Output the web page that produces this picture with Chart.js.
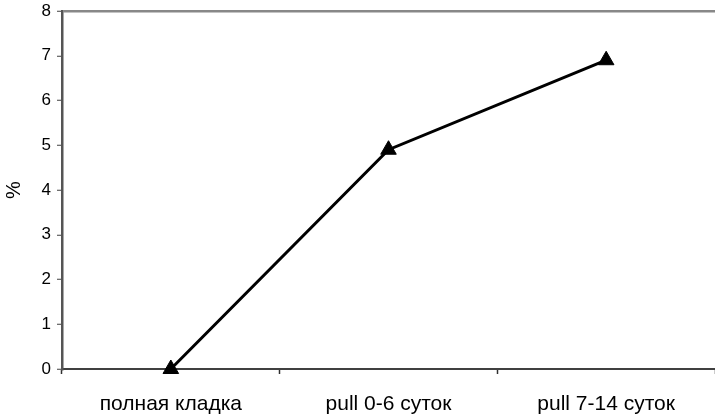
<!DOCTYPE html>
<html>
<head>
<meta charset="utf-8">
<script src="https://cdn.jsdelivr.net/npm/chart.js@4/dist/chart.umd.min.js"></script>
<style>
  html, body { margin: 0; padding: 0; background: #fff; }
  #wrap { width: 715px; height: 417px; }
</style>
</head>
<body>
<div id="wrap"><canvas id="c" width="715" height="417"></canvas></div>
<script>
// Share by clutch group, %
const categories = ['полная кладка', 'pull 0-6 суток', 'pull 7-14 суток'];
const shareValues = [0, 4.9, 6.9];
const yTicks = [0, 1, 2, 3, 4, 5, 6, 7, 8];

const FONT = "'Liberation Sans', Arial, sans-serif";

new Chart(document.getElementById('c'), {
  type: 'line',
  data: {
    labels: categories,
    datasets: [{
      data: shareValues,
      borderColor: '#000',
      borderWidth: 3,
      backgroundColor: '#000',
      pointStyle: 'triangle',
      pointRadius: 9,
      pointHoverRadius: 9,
      pointBorderWidth: 1,
      pointBorderColor: '#000',
      pointBackgroundColor: '#000',
      tension: 0,
      fill: false,
      clip: false
    }]
  },
  options: {
    responsive: false,
    animation: false,
    events: [],
    layout: { autoPadding: false, padding: { top: 11, right: 0, left: 0, bottom: 0 } },
    plugins: { legend: { display: false }, tooltip: { enabled: false } },
    scales: {
      x: {
        offset: true,
        grid: {
          offset: true,
          color: 'rgba(0,0,0,0)',
          tickColor: '#303030',
          tickLength: 5,
          tickWidth: 1.5
        },
        border: { color: '#404040', width: 2 },
        ticks: {
          color: '#000',
          padding: 18,
          font: { family: FONT, size: 21 },
          maxRotation: 0
        },
        afterFit: s => { s.height = 48; s.paddingLeft = 0; s.paddingRight = 0; }
      },
      y: {
        min: 0,
        max: 8,
        afterBuildTicks: s => { s.ticks = yTicks.map(v => ({ value: v })); },
        grid: {
          color: c => (c.tick && c.tick.value === 8 ? '#888888' : 'rgba(0,0,0,0)'),
          lineWidth: 2.5,
          tickColor: '#404040',
          tickLength: 5,
          tickWidth: 1
        },
        border: { color: '#555555', width: 2.5 },
        ticks: {
          color: '#000',
          padding: 6,
          font: { family: FONT, size: 17 }
        },
        title: {
          display: true,
          text: '%',
          color: '#000',
          font: { family: FONT, size: 20 },
          padding: { top: 2, bottom: 0 }
        },
        afterFit: s => { s.width = 62; s.paddingTop = 0; s.paddingBottom = 0; }
      }
    }
  }
});
</script>
</body>
</html>
